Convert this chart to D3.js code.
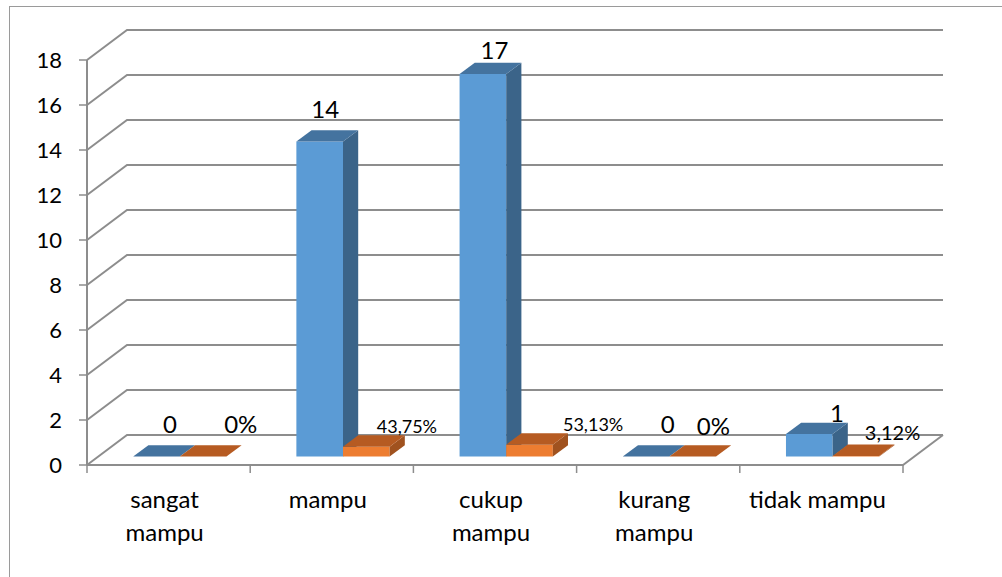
<!DOCTYPE html>
<html>
<head>
<meta charset="utf-8">
<script src="https://cdn.jsdelivr.net/npm/d3@7"></script>
<style>
  html, body { margin: 0; padding: 0; background: #fff; }
  svg { display: block; font-family: Lato, "Open Sans", sans-serif; }
</style>
</head>
<body>
<svg id="chart" width="1002" height="577"></svg>
<script>
// Categories (wrapped lines as shown under the axis)
const categoryLines = [["sangat", "mampu"], ["mampu"], ["cukup", "mampu"], ["kurang", "mampu"], ["tidak mampu"]];
// Respondent counts
const jumlah = [0, 14, 17, 0, 1];
// Share of respondents, in percent (plotted as a fraction on the same axis)
const persen = [0, 43.75, 53.13, 0, 3.12];
// Value axis ticks
const yTicks = [0, 2, 4, 6, 8, 10, 12, 14, 16, 18];

// ---- layout ----
const W = 1002, H = 577;
const plotLeft = 87, plotRight = 903, plotBottom = 465, plotTop = 60;
const depthX = 40, depthY = 30;          // projection of the full depth
const barZ0 = 0.28, barZ1 = 0.66;        // bar slab inside the depth
const gridColor = "#8d8d8d";

const svg = d3.select("#chart");

// Outer chart frame
svg.append("rect")
  .attr("x", 9.5).attr("y", 6.5)
  .attr("width", W + 20).attr("height", H + 20)
  .attr("fill", "none").attr("stroke", "#9a9a9a").attr("stroke-width", 1);

const y = d3.scaleLinear().domain([0, 18]).range([plotBottom, plotTop]);
const xCat = d3.scaleBand().domain(d3.range(categoryLines.length))
  .range([plotLeft, plotRight]).paddingInner(0).paddingOuter(0);
const seriesKeys = ["jumlah", "persen"];
const xSeries = d3.scaleBand().domain(seriesKeys)
  .range([0, xCat.bandwidth()]).paddingInner(0).paddingOuter(0.75);

// Project a front x, value and depth (0 = front, 1 = back wall) to the screen
const P = (xf, v, z) => [xf + z * depthX, y(v) - z * depthY];
const pts = arr => arr.map(p => p.join(",")).join(" ");

// ---- walls and gridlines ----
const grid = svg.append("g");
yTicks.forEach(t => {
  grid.append("polyline")
    .attr("points", pts([P(plotLeft, t, 0), P(plotLeft, t, 1), P(plotRight, t, 1)]))
    .attr("fill", "none").attr("stroke", gridColor).attr("stroke-width", 2);
});
// floor front edge and right edge
grid.append("polyline")
  .attr("points", pts([P(plotLeft, 0, 0), P(plotRight, 0, 0), P(plotRight, 0, 1)]))
  .attr("fill", "none").attr("stroke", gridColor).attr("stroke-width", 2);

// value axis
const yAxis = svg.append("g");
yAxis.append("line")
  .attr("x1", plotLeft).attr("x2", plotLeft)
  .attr("y1", y(18)).attr("y2", y(0))
  .attr("stroke", gridColor).attr("stroke-width", 2);
yTicks.forEach(t => {
  yAxis.append("line")
    .attr("x1", plotLeft - 8).attr("x2", plotLeft)
    .attr("y1", y(t)).attr("y2", y(t))
    .attr("stroke", gridColor).attr("stroke-width", 1.5);
  yAxis.append("text")
    .attr("x", plotLeft - 25).attr("y", y(t) + 8)
    .attr("text-anchor", "end")
    .attr("font-size", 22).attr("fill", "#000")
    .text(t);
});

// category ticks and labels
const xAxis = svg.append("g");
const bounds = d3.range(categoryLines.length + 1).map(i =>
  i < categoryLines.length ? xCat(i) : plotRight);
bounds.forEach(bx => {
  xAxis.append("line")
    .attr("x1", bx).attr("x2", bx)
    .attr("y1", plotBottom).attr("y2", plotBottom + 8)
    .attr("stroke", gridColor).attr("stroke-width", 1.5);
});
categoryLines.forEach((lines, i) => {
  const t = xAxis.append("text")
    .attr("text-anchor", "middle")
    .attr("font-size", 24).attr("fill", "#000");
  lines.forEach((ln, k) => {
    t.append("tspan")
      .attr("x", xCat(i) + xCat.bandwidth() / 2 - 4)
      .attr("y", 508 + k * 33)
      .text(ln);
  });
});

// ---- bars ----
const colors = {
  jumlah: { front: "#5b9bd5", side: "#3b6489", top: "#44739f" },
  persen: { front: "#ed7d31", side: "#a0521f", top: "#b65b22" }
};
const plotted = {
  jumlah: jumlah,
  persen: persen.map(p => p / 100)
};

const bars = svg.append("g");
categoryLines.forEach((_, i) => {
  seriesKeys.forEach(key => {
    const v = plotted[key][i];
    const xa = xCat(i) + xSeries(key);
    const xb = xa + xSeries.bandwidth();
    const c = colors[key];
    const g = bars.append("g");
    if (y(0) - y(v) > 0.3) {
      g.append("polygon")
        .attr("points", pts([P(xa, 0, barZ0), P(xb, 0, barZ0), P(xb, v, barZ0), P(xa, v, barZ0)]))
        .attr("fill", c.front);
      g.append("polygon")
        .attr("points", pts([P(xb, 0, barZ0), P(xb, 0, barZ1), P(xb, v, barZ1), P(xb, v, barZ0)]))
        .attr("fill", c.side);
    }
    g.append("polygon")
      .attr("points", pts([P(xa, v, barZ0), P(xb, v, barZ0), P(xb, v, barZ1), P(xa, v, barZ1)]))
      .attr("fill", c.top);
  });
});

// ---- data labels ----
const comma = d3.formatLocale({ decimal: ",", thousands: ".", grouping: [3], currency: ["", ""] });
const fmtPct = p => (p === 0 ? "0" : comma.format(".2f")(p)) + "%";
const labelText = {
  jumlah: jumlah.map(String),
  persen: persen.map(fmtPct)
};
const labelSize = {
  jumlah: [24, 24, 24, 24, 24],
  persen: [24, 18, 18, 24, 20]
};
const labelNudge = {
  jumlah: [[6, -18], [-2, -18], [4, -9], [14, -18], [20, -6]],
  persen: [[30, -18], [33, -8], [56, -8], [13, -16], [29, -10]]
};
const zMid = (barZ0 + barZ1) / 2;
const labels = svg.append("g");
categoryLines.forEach((_, i) => {
  seriesKeys.forEach(key => {
    const v = plotted[key][i];
    const xc = xCat(i) + xSeries(key) + xSeries.bandwidth() / 2;
    const [ax, ay] = P(xc, v, zMid);
    const [nx, ny] = labelNudge[key][i];
    labels.append("text")
      .attr("x", ax + nx).attr("y", ay + ny)
      .attr("text-anchor", "middle")
      .attr("font-size", labelSize[key][i])
      .attr("fill", "#000")
      .text(labelText[key][i]);
  });
});
</script>
</body>
</html>
